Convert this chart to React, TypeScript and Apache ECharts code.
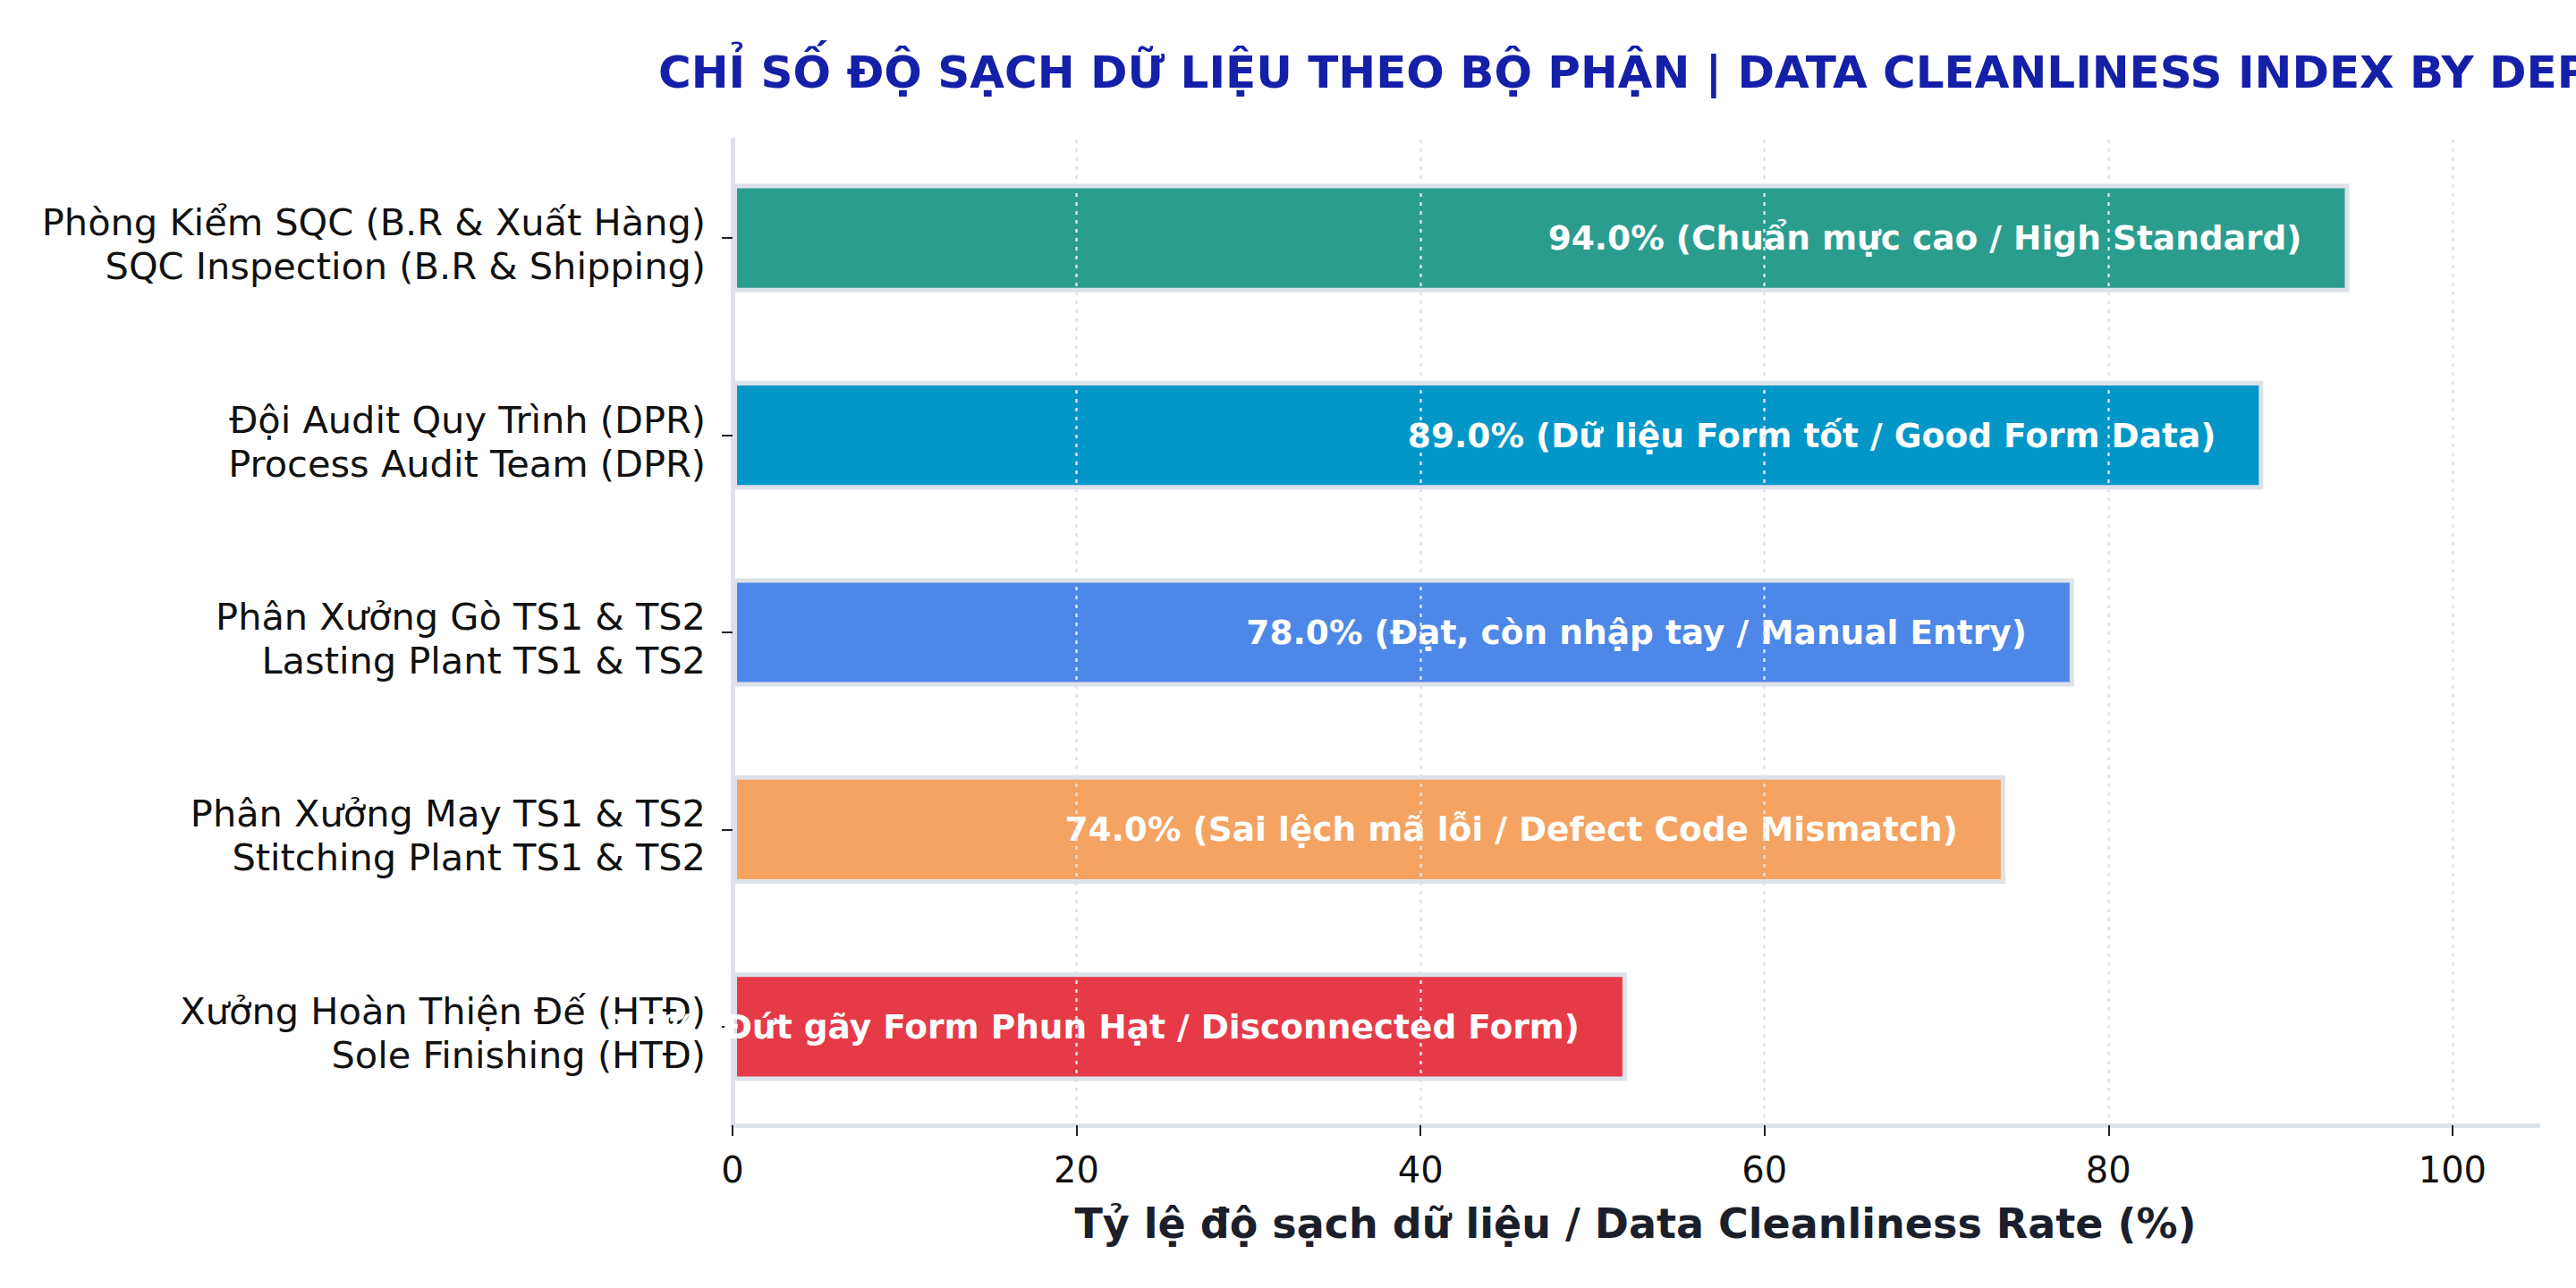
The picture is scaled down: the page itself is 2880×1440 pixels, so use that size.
import { useEffect, useRef } from 'react';
import * as echarts from 'echarts';

const FONT = 'DejaVu Sans';

// top-down order, as in the picture
const departments = [
  'Phòng Kiểm SQC (B.R & Xuất Hàng)\nSQC Inspection (B.R & Shipping)',
  'Đội Audit Quy Trình (DPR)\nProcess Audit Team (DPR)',
  'Phân Xưởng Gò TS1 & TS2\nLasting Plant TS1 & TS2',
  'Phân Xưởng May TS1 & TS2\nStitching Plant TS1 & TS2',
  'Xưởng Hoàn Thiện Đế (HTĐ)\nSole Finishing (HTĐ)',
];
const cleanliness = [94, 89, 78, 74, 52];
const notes = [
  'Chuẩn mực cao / High Standard',
  'Dữ liệu Form tốt / Good Form Data',
  'Đạt, còn nhập tay / Manual Entry',
  'Sai lệch mã lỗi / Defect Code Mismatch',
  'Đứt gãy Form Phun Hạt / Disconnected Form',
];
const barColors = ['#2a9d8f', '#0297c8', '#4d87e8', '#f4a362', '#e63a48'];
const xTicks = [0, 20, 40, 60, 80, 100];

const TITLE =
  'CHỈ SỐ ĐỘ SẠCH DỮ LIỆU THEO BỘ PHẬN | DATA CLEANLINESS INDEX BY DEPARTMENT';

export default function App() {
  const ref = useRef<HTMLDivElement | null>(null);

  useEffect(() => {
    document.body.style.margin = '0';
    if (!ref.current) return;
    const chart = echarts.init(ref.current, undefined, { renderer: 'svg' });

    chart.setOption({
      animation: false,
      backgroundColor: '#ffffff',
      title: {
        text: TITLE,
        left: 731,
        top: 51,
        textStyle: {
          fontFamily: FONT,
          fontSize: 50,
          fontWeight: 'bold',
          color: '#1520a8',
        },
      },
      grid: { left: 819, right: 42, top: 156, bottom: 182 },
      xAxis: {
        type: 'value',
        min: 0,
        max: 105,
        name: 'Tỷ lệ độ sạch dữ liệu / Data Cleanliness Rate (%)',
        nameLocation: 'middle',
        nameGap: 87,
        nameTextStyle: {
          fontFamily: FONT,
          fontSize: 46,
          fontWeight: 'bold',
          color: '#1b1f2b',
        },
        axisLine: { show: true, lineStyle: { color: '#dde1ea', width: 5 } },
        axisTick: {
          show: true,
          customValues: xTicks,
          length: 12,
          lineStyle: { color: '#222', width: 2 },
        },
        axisLabel: {
          customValues: xTicks,
          fontFamily: FONT,
          fontSize: 40,
          color: '#111',
          margin: 30,
        },
        splitLine: { show: false },
      },
      yAxis: {
        type: 'category',
        data: departments,
        inverse: true,
        axisLine: { show: true, lineStyle: { color: '#dde1ea', width: 5 } },
        axisTick: {
          show: true,
          alignWithLabel: true,
          length: 12,
          lineStyle: { color: '#222', width: 2 },
        },
        axisLabel: {
          interval: 0,
          fontFamily: FONT,
          fontSize: 41.5,
          lineHeight: 49,
          color: '#111',
          margin: 30,
          align: 'right',
          // a thin spacer line on top nudges the two-line label down a bit
          formatter: (v: string) => '{s| }\n' + v,
          rich: { s: { fontSize: 1, lineHeight: 14 } },
        },
        splitLine: { show: false },
      },
      series: [
        {
          type: 'bar',
          data: cleanliness.map((v, i) => ({
            value: v,
            itemStyle: { color: barColors[i] },
          })),
          barWidth: '55%',
          itemStyle: { borderColor: '#dde1ea', borderWidth: 5 },
          label: {
            show: true,
            position: 'insideRight',
            distance: 53,
            fontFamily: FONT,
            fontSize: 37.5,
            fontWeight: 'bold',
            color: '#ffffff',
            formatter: (p: { value: number; dataIndex: number }) =>
              `${p.value.toFixed(1)}% (${notes[p.dataIndex]})`,
          },
          markLine: {
            silent: true,
            symbol: 'none',
            z: 5,
            label: { show: false },
            lineStyle: { color: '#dfe2ea', width: 2.5, type: [4, 6] },
            data: xTicks.slice(1).map((v) => ({ xAxis: v })),
          },
        },
      ],
    });

    return () => chart.dispose();
  }, []);

  return <div ref={ref} style={{ width: 2880, height: 1440 }} />;
}
